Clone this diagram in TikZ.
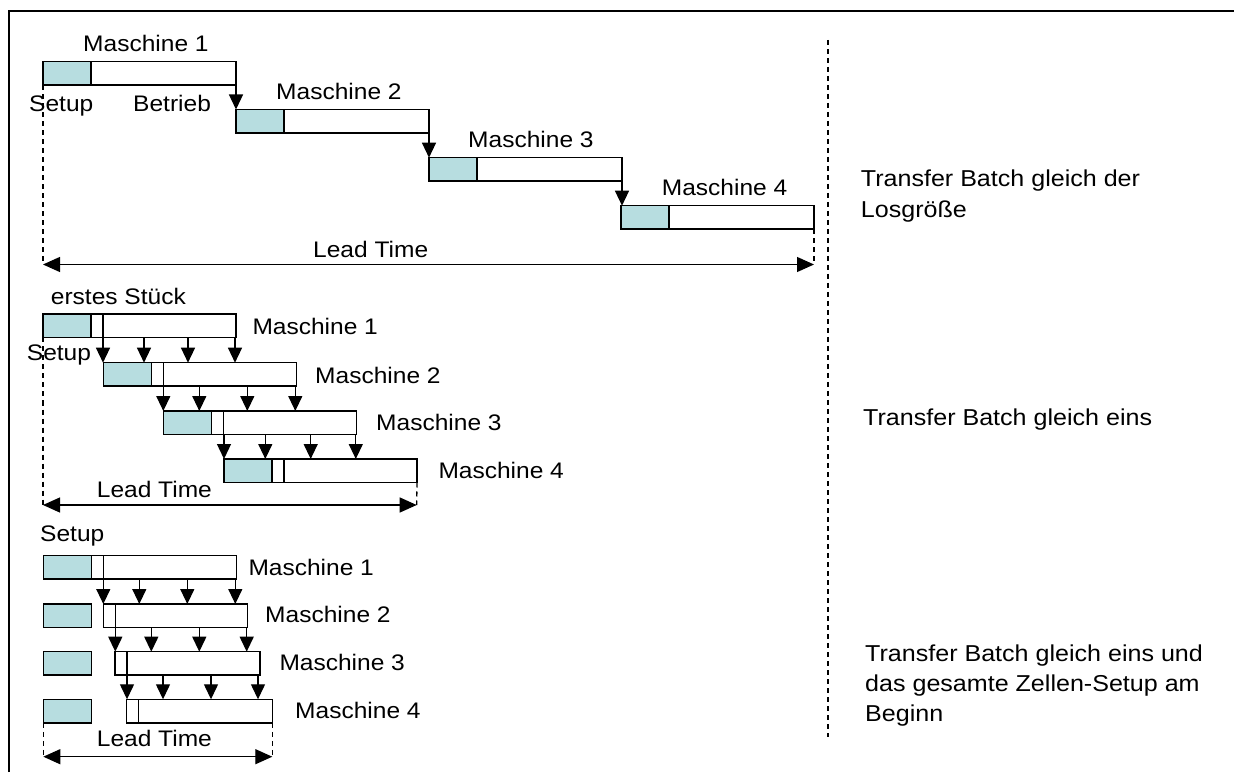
\documentclass[tikz,border=0pt]{standalone}
\usepackage{fontspec}
\setmainfont{Liberation Sans}[FakeStretch=1.09]
\usetikzlibrary{arrows.meta,calc}
\definecolor{setupc}{RGB}{183,221,224}
\begin{document}
\begin{tikzpicture}[x=1pt,y=-1pt,
  bar/.style={draw,line width=1.5pt,fill=white,inner sep=0pt,outer sep=0pt,minimum height=23.5pt,anchor=north west},
  setupbox/.style={draw,line width=1.5pt,fill=setupc,inner sep=0pt,outer sep=0pt,minimum height=23.5pt,minimum width=48pt,anchor=north west},
  arr/.style={-{Triangle[length=15pt,width=14pt]},line width=1.3pt},
  dbl/.style={{Triangle[length=17pt,width=15pt]}-{Triangle[length=17pt,width=15pt]},line width=1.3pt},
  dashln/.style={line width=1.3pt,dash pattern=on 5pt off 4pt},
  lbl/.style={inner sep=0pt,anchor=base west,font=\fontsize{22.5}{27}\selectfont},
  rlbl/.style={inner sep=0pt,anchor=base west,font=\fontsize{23}{30}\selectfont}]
\useasboundingbox (0,0) rectangle (1234,775);
% frame
\draw[line width=2.5pt] (9,772) -- (9,11) -- (1234,11);
% right divider
\draw[dashln] (828,40) -- (828,737);

% ===== top section =====
\node[bar,minimum width=193pt] (a1) at (43,61.7) {};
\node[setupbox] (a1s) at (a1.north west) {};
\node[bar,minimum width=193pt] (a2) at (236,109.5) {};
\node[setupbox] (a2s) at (a2.north west) {};
\node[bar,minimum width=193pt] (a3) at (429,157.7) {};
\node[setupbox] (a3s) at (a3.north west) {};
\node[bar,minimum width=193pt] (a4) at (621,205.7) {};
\node[setupbox] (a4s) at (a4.north west) {};
\draw[arr] (a1.south east) -- (a1.south east |- a2.north);
\draw[arr] (a2.south east) -- (a2.south east |- a3.north);
\draw[arr] (a3.south east) -- (a3.south east |- a4.north);
\node[lbl] (ta1) at (83,52) {Maschine 1};
\node[lbl] (ta2) at (276,100) {Maschine 2};
\node[lbl] (ta3) at (468,147.7) {Maschine 3};
\node[lbl] (ta4) at (661.7,196) {Maschine 4};
\node[lbl] (tsetup1) at (29,112) {Setup};
\node[lbl] (tbetr) at (133,112) {Betrieb};
\coordinate (lt1l) at (43,264.5);
\coordinate (lt1r) at (814,264.5);
\draw[dashln] (a1s.south west) -- (lt1l);
\draw[dashln] (a4.south east) -- (lt1r);
\draw[dbl] (lt1l) -- (lt1r);
\node[lbl] (tlt1) at (313,258) {Lead Time};
\node[rlbl] (r1a) at (860.7,186.7) {Transfer Batch gleich der};
\node[rlbl] (r1b) at (860.7,217.7) {Losgröße};

% ===== middle section =====
\node[bar,minimum width=193pt] (b1) at (43,314) {};
\node[setupbox] (b1s) at (b1.north west) {};
\node[bar,minimum width=193pt] (b2) at (103.3,362.7) {};
\node[setupbox] (b2s) at (b2.north west) {};
\node[bar,minimum width=193pt] (b3) at (163.3,411) {};
\node[setupbox] (b3s) at (b3.north west) {};
\node[bar,minimum width=193pt] (b4) at (224,459) {};
\node[setupbox] (b4s) at (b4.north west) {};
\foreach \n in {1,2,3,4}{
  \draw[line width=1.5pt] ($(b\n.north west)+(60,0)$) -- ($(b\n.south west)+(60,0)$);
}
\foreach \o in {60,101,145,192}{
  \draw[arr] ($(b1.south west)+(\o,0)$) -- ($(b1.south west |- b2.north)+(\o,0)$);
}
\foreach \o in {60,96,144,192}{
  \draw[arr] ($(b2.south west)+(\o,0)$) -- ($(b2.south west |- b3.north)+(\o,0)$);
}
\foreach \o in {60.7,102,147.4,192.5}{
  \draw[arr] ($(b3.south west)+(\o,0)$) -- ($(b3.south west |- b4.north)+(\o,0)$);
}
\node[lbl] (tb1) at (252.3,335) {Maschine 1};
\node[lbl] (tb2) at (315,383.3) {Maschine 2};
\node[lbl] (tb3) at (376,430) {Maschine 3};
\node[lbl] (tb4) at (438.3,478.3) {Maschine 4};
\node[lbl] (terst) at (50.7,305) {erstes Stück};
\node[lbl] (tsetup2) at (26.7,361) {Setup};
\coordinate (lt2l) at (43,505);
\coordinate (lt2r) at (416.7,505);
\draw[dashln] (b1s.south west) -- (lt2l);
\draw[dashln] (b4.south east) -- (lt2r);
\draw[dbl] (lt2l) -- (lt2r);
\node[lbl] (tlt2) at (96.7,497) {Lead Time};
\node[rlbl] (r2a) at (863,425) {Transfer Batch gleich eins};

% ===== bottom section =====
\node[setupbox] (c1s) at (43.3,555.7) {};
\node[bar,minimum width=145pt] (c1) at (c1s.north east) {};
\node[setupbox] (c2s) at (43.3,604) {};
\node[bar,minimum width=144pt] (c2) at (103.3,604) {};
\node[setupbox] (c3s) at (43.3,651.7) {};
\node[bar,minimum width=145pt] (c3) at (115,651.7) {};
\node[setupbox] (c4s) at (43.3,699.3) {};
\node[bar,minimum width=145.6pt] (c4) at (126.7,699.3) {};
\foreach \n in {1,2,3,4}{
  \draw[line width=1.5pt] ($(c\n.north west)+(12,0)$) -- ($(c\n.south west)+(12,0)$);
}
\foreach \o in {12,48,96,144}{
  \draw[arr] ($(c1.south west)+(\o,0)$) -- ($(c1.south west |- c2.north)+(\o,0)$);
}
\foreach \o in {12,48,96,143.4}{
  \draw[arr] ($(c2.south west)+(\o,0)$) -- ($(c2.south west |- c3.north)+(\o,0)$);
}
\foreach \o in {12,48,96,143}{
  \draw[arr] ($(c3.south west)+(\o,0)$) -- ($(c3.south west |- c4.north)+(\o,0)$);
}
\node[lbl] (tc1) at (248.3,575) {Maschine 1};
\node[lbl] (tc2) at (265,622.7) {Maschine 2};
\node[lbl] (tc3) at (279.3,670.7) {Maschine 3};
\node[lbl] (tc4) at (295,718.3) {Maschine 4};
\node[lbl] (tsetup3) at (40,541.7) {Setup};
\coordinate (lt3l) at (43.3,756.7);
\coordinate (lt3r) at (272.3,756.7);
\draw[dashln] (c4s.south west) -- (lt3l);
\draw[dashln] (c4.south east) -- (lt3r);
\draw[dbl] (lt3l) -- (lt3r);
\node[lbl] (tlt3) at (96.7,746.7) {Lead Time};
\node[rlbl] (r3a) at (865,661.7) {Transfer Batch gleich eins und};
\node[rlbl] (r3b) at (865,691.7) {das gesamte Zellen-Setup am};
\node[rlbl] (r3c) at (865,721) {Beginn};
\end{tikzpicture}
\end{document}
